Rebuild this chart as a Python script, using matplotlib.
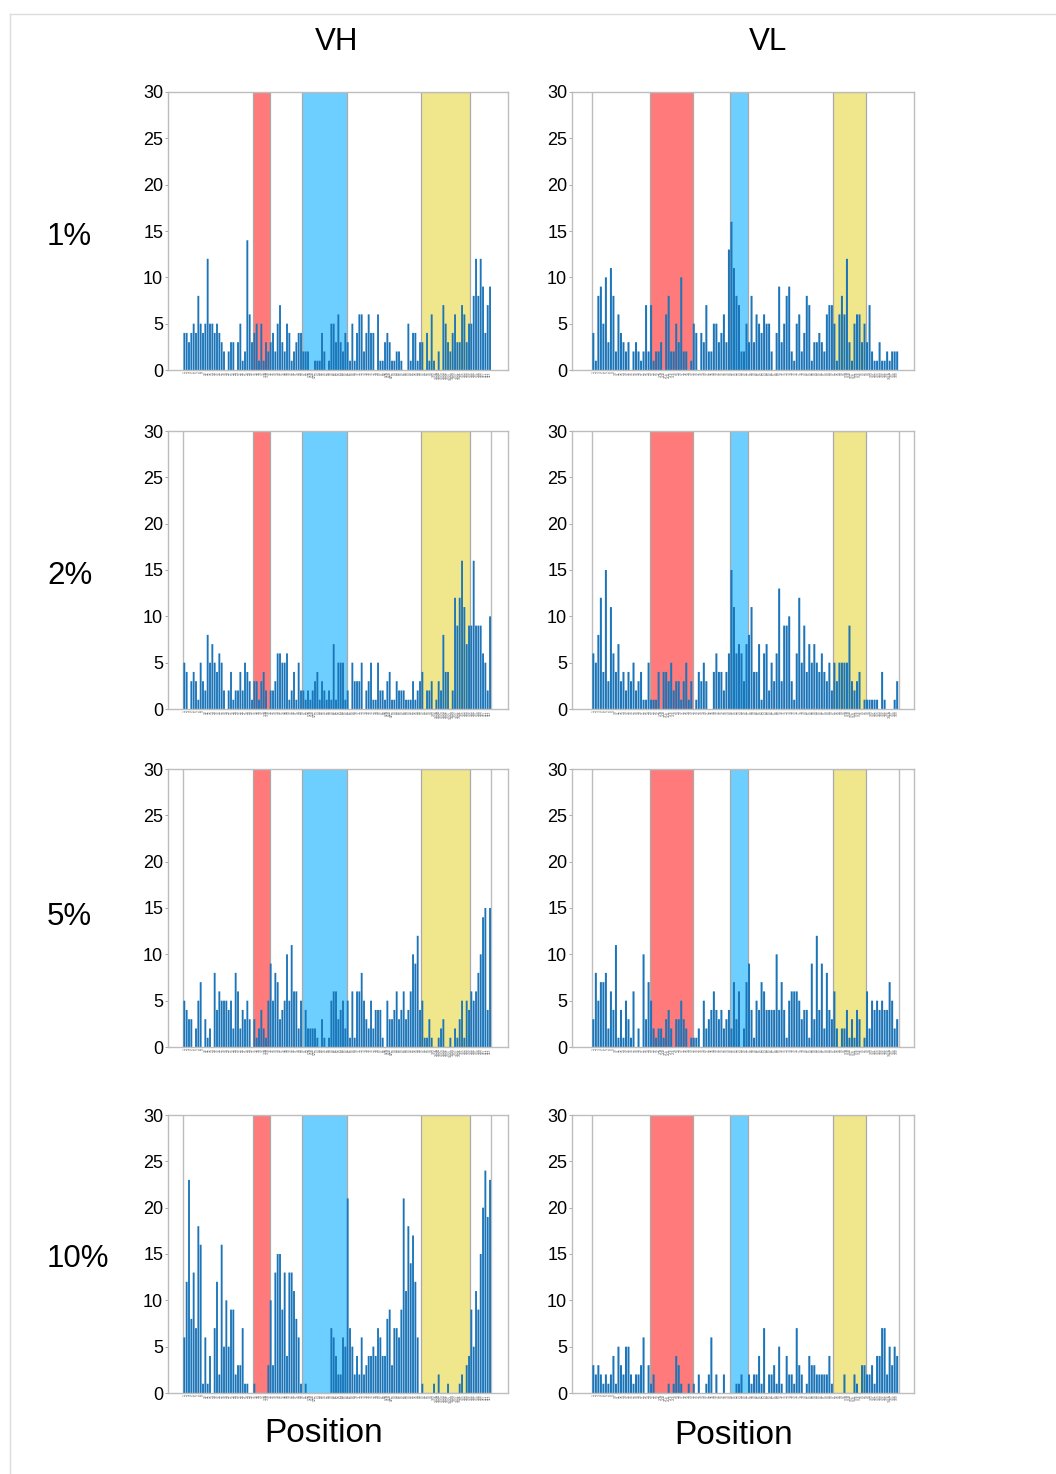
import numpy as np
import matplotlib
matplotlib.use("Agg")
import matplotlib.pyplot as plt
from matplotlib.lines import Line2D

W, H, DPI = 1056, 1474, 100
FONT = "Liberation Sans"
plt.rcParams["font.family"] = [FONT, "DejaVu Sans"]

# ---------------- data ----------------
ROWS = ["1%", "2%", "5%", "10%"]
CHAINS = ["VH", "VL"]


def kabat_labels(last, insertions):
    out = []
    for n in range(1, last + 1):
        out.append(str(n))
        for s in insertions.get(n, ""):
            out.append(f"{n}{s}")
    return out


VH_POS = kabat_labels(113, {35: "AB", 52: "ABC", 82: "ABC", 100: "ABCDEFGHIJK"})
VL_POS = kabat_labels(109, {27: "ABCDEF", 95: "ABCDEF", 106: "A"})

VH_CDRS = [("31", "35B"), ("50", "65"), ("95", "104")]
VL_CDRS = [("24", "34"), ("50", "56"), ("91", "97")]
CDR_COLORS = ["#ff7b7b", "#6dcfff", "#f0e68c"]

VH_1 = [4, 4, 3, 4, 5, 4, 8, 5, 4, 5, 12, 5, 5, 4, 5, 4, 3, 2, 0, 2,
        3, 3, 0, 3, 5, 1, 2, 14, 6, 3, 4, 5, 1, 5, 1, 3, 2, 3, 4, 2,
        5, 7, 3, 2, 5, 4, 1, 2, 3, 4, 4, 2, 2, 2, 0, 0, 1, 1, 1, 4,
        2, 0, 1, 5, 5, 3, 6, 3, 2, 4, 3, 1, 5, 1, 4, 6, 6, 2, 4, 6,
        4, 4, 0, 6, 1, 1, 3, 4, 3, 1, 1, 2, 2, 1, 0, 0, 5, 1, 4, 4,
        1, 3, 3, 0, 4, 1, 6, 1, 0, 2, 0, 7, 5, 3, 2, 4, 6, 3, 3, 7,
        6, 3, 5, 5, 8, 12, 8, 12, 9, 4, 7, 9]
VH_2 = [5, 4, 0, 3, 4, 3, 1, 5, 3, 2, 8, 5, 7, 5, 4, 6, 5, 2, 0, 2,
        4, 1, 2, 2, 4, 2, 5, 4, 3, 1, 3, 3, 1, 3, 4, 2, 0, 2, 2, 3,
        6, 6, 5, 5, 6, 1, 2, 4, 1, 5, 2, 2, 1, 2, 1, 2, 3, 4, 1, 3,
        2, 1, 2, 1, 7, 1, 5, 5, 5, 1, 2, 0, 5, 3, 3, 3, 5, 0, 2, 3,
        5, 1, 1, 5, 2, 2, 1, 3, 4, 1, 1, 3, 2, 2, 2, 1, 1, 1, 3, 1,
        2, 3, 4, 0, 2, 2, 3, 0, 1, 3, 2, 8, 4, 4, 0, 2, 12, 9, 12, 16,
        11, 7, 9, 9, 16, 9, 9, 9, 6, 5, 2, 10]
VH_5 = [5, 4, 3, 3, 0, 2, 5, 7, 0, 3, 1, 2, 0, 8, 4, 6, 5, 5, 5, 4,
        5, 2, 8, 6, 2, 4, 3, 5, 3, 0, 3, 1, 2, 4, 2, 1, 5, 9, 5, 8,
        7, 3, 4, 5, 10, 5, 11, 6, 6, 2, 5, 0, 4, 2, 2, 2, 2, 1, 0, 3,
        1, 0, 1, 5, 6, 6, 3, 4, 5, 2, 5, 1, 6, 1, 6, 6, 8, 5, 3, 2,
        5, 2, 4, 4, 4, 1, 0, 5, 3, 3, 4, 6, 3, 4, 6, 3, 4, 6, 10, 9,
        12, 4, 5, 1, 1, 3, 1, 0, 0, 1, 2, 3, 0, 0, 1, 0, 2, 1, 3, 5,
        1, 5, 4, 6, 5, 6, 8, 10, 14, 15, 4, 15]
VH_10 = [6, 12, 23, 8, 13, 7, 18, 16, 1, 6, 1, 4, 0, 7, 12, 2, 16, 5, 10, 5,
         9, 9, 2, 3, 3, 7, 1, 1, 0, 0, 1, 0, 0, 0, 0, 0, 3, 10, 3, 13,
         15, 15, 9, 13, 4, 13, 13, 11, 8, 6, 1, 0, 1, 0, 0, 0, 0, 0, 0, 0,
         0, 0, 0, 7, 6, 4, 2, 2, 6, 5, 21, 7, 5, 2, 4, 2, 6, 2, 3, 4,
         4, 5, 4, 7, 6, 4, 4, 8, 9, 3, 7, 7, 6, 9, 21, 11, 18, 14, 17, 12,
         6, 0, 1, 0, 0, 0, 0, 1, 0, 2, 0, 0, 0, 1, 0, 0, 0, 0, 1, 2,
         0, 3, 4, 9, 5, 11, 9, 15, 20, 24, 19, 23]

VL_1 = [4, 1, 8, 9, 5, 10, 3, 11, 8, 2, 6, 4, 3, 2, 3, 0, 2, 3, 2, 1,
        2, 7, 2, 7, 1, 2, 2, 3, 0, 6, 8, 2, 2, 5, 3, 10, 2, 2, 0, 1,
        5, 4, 0, 4, 3, 7, 2, 2, 5, 5, 3, 4, 6, 3, 13, 16, 11, 8, 7, 2,
        2, 5, 3, 8, 3, 6, 5, 4, 6, 5, 5, 2, 0, 4, 9, 3, 5, 8, 9, 2,
        1, 5, 6, 2, 4, 8, 7, 1, 3, 3, 4, 3, 2, 6, 7, 7, 5, 1, 6, 8,
        6, 12, 3, 1, 5, 6, 6, 3, 5, 3, 7, 2, 1, 1, 3, 1, 1, 2, 1, 2,
        2, 2]
VL_2 = [6, 5, 8, 12, 4, 15, 3, 11, 6, 4, 7, 3, 4, 2, 4, 3, 5, 2, 3, 4,
        1, 1, 5, 1, 1, 1, 4, 0, 4, 4, 3, 5, 2, 3, 3, 1, 3, 5, 1, 3,
        0, 1, 4, 3, 5, 3, 0, 0, 4, 6, 4, 4, 2, 4, 6, 15, 11, 6, 7, 6,
        3, 7, 8, 11, 4, 4, 7, 1, 6, 7, 2, 5, 3, 6, 13, 3, 9, 9, 10, 3,
        1, 6, 12, 5, 9, 4, 7, 5, 7, 5, 4, 6, 4, 3, 5, 2, 5, 3, 5, 5,
        5, 5, 9, 3, 2, 3, 4, 0, 1, 1, 1, 1, 1, 1, 0, 4, 1, 0, 0, 0,
        1, 3]
VL_5 = [3, 8, 5, 7, 7, 8, 2, 6, 4, 11, 1, 4, 1, 5, 3, 1, 6, 0, 2, 0,
        10, 3, 7, 5, 2, 1, 2, 2, 1, 3, 4, 2, 0, 3, 3, 5, 3, 2, 0, 1,
        1, 1, 2, 0, 5, 2, 3, 4, 6, 4, 3, 4, 2, 3, 4, 2, 7, 3, 6, 0,
        2, 7, 9, 4, 1, 5, 4, 7, 6, 4, 4, 4, 4, 10, 4, 7, 4, 1, 5, 6,
        6, 6, 5, 3, 4, 4, 1, 9, 3, 12, 4, 9, 2, 8, 4, 3, 6, 2, 0, 2,
        2, 4, 1, 3, 1, 4, 3, 0, 1, 6, 2, 5, 4, 5, 4, 5, 4, 4, 7, 5,
        2, 3]
VL_10 = [3, 2, 3, 2, 1, 2, 1, 2, 4, 1, 5, 3, 2, 5, 5, 2, 1, 2, 2, 3,
         6, 0, 3, 1, 2, 0, 0, 0, 0, 0, 1, 0, 1, 4, 3, 1, 0, 0, 1, 0,
         1, 0, 2, 0, 0, 1, 2, 6, 0, 2, 0, 0, 2, 0, 0, 0, 0, 1, 1, 2,
         0, 0, 2, 1, 2, 2, 4, 1, 7, 0, 2, 2, 3, 1, 5, 1, 0, 4, 2, 2,
         1, 7, 3, 2, 0, 1, 4, 3, 3, 2, 2, 2, 2, 2, 4, 1, 0, 0, 0, 0,
         2, 0, 0, 0, 2, 1, 0, 3, 3, 2, 2, 3, 1, 4, 4, 7, 7, 2, 5, 3,
         5, 4]

DATA = {"VH": [VH_1, VH_2, VH_5, VH_10], "VL": [VL_1, VL_2, VL_5, VL_10]}
POS = {"VH": VH_POS, "VL": VL_POS}
CDRS = {"VH": VH_CDRS, "VL": VL_CDRS}

# ---------------- layout ----------------
COL_X = {"VH": (168, 508), "VL": (572, 914)}
XLIM = {"VH": (-7.0, 138.7), "VL": (-8.5, 127.7)}
ROW_Y = [(92, 370), (431, 709), (769, 1047), (1115, 1393)]
ROW_LABEL_Y = [237, 576, 917, 1259]
BAR_COLOR = "#1b75b8"
GRAY = "#bdbdbd"


def rect(l, r, t, b):
    return [l / W, 1 - b / H, (r - l) / W, (b - t) / H]


fig = plt.figure(figsize=(W / DPI, H / DPI), dpi=DPI)
fig.patch.set_facecolor("white")

# faint page border (top and left)
fig.add_artist(Line2D([10 / W, 10 / W], [0, 1 - 14 / H], transform=fig.transFigure,
                      color="#dcdcdc", lw=1))
fig.add_artist(Line2D([10 / W, 1], [1 - 14 / H, 1 - 14 / H], transform=fig.transFigure,
                      color="#dcdcdc", lw=1))

for r in range(len(ROWS)):
    for chain in CHAINS:
        l, rr = COL_X[chain]
        t, b = ROW_Y[r]
        ax = fig.add_axes(rect(l, rr, t, b))
        pos = POS[chain]
        vals = DATA[chain][r]
        x = np.arange(len(pos))
        for (a, z), col in zip(CDRS[chain], CDR_COLORS):
            ia, iz = pos.index(a), pos.index(z)
            ax.axvspan(ia - 0.5, iz + 0.5, facecolor=col, edgecolor="#a9a9a9",
                       lw=0.9, zorder=0)
        bars = ax.bar(x, vals, width=0.8, color=BAR_COLOR, zorder=2, linewidth=0)
        for p in bars:
            p.set_snap(False)
        # thin data-range guides
        if chain == "VL" or r > 0:
            ax.axvline(-0.6, color=GRAY, lw=1, zorder=1)
        if r > 0:
            ax.axvline(len(pos) - 0.4, color=GRAY, lw=1, zorder=1)
        ax.set_xlim(*XLIM[chain])
        ax.set_ylim(0, 30)
        ax.set_yticks(range(0, 31, 5))
        ax.tick_params(axis="y", length=2, width=0.6, color="#999999", pad=1.5,
                       labelsize=13, labelcolor="black")
        ax.set_xticks(x)
        ax.set_xticklabels(pos, rotation=90, fontsize=2.4, color="#6e6e6e")
        ax.tick_params(axis="x", length=0, pad=1)
        for s in ax.spines.values():
            s.set_color(GRAY)
            s.set_linewidth(1)
        ax.set_facecolor("white")

# column titles
fig.text(337 / W, 1 - 42 / H, "VH", ha="center", va="center", fontsize=22.5)
fig.text(768 / W, 1 - 42 / H, "VL", ha="center", va="center", fontsize=22.5)
# row labels
for lab, y in zip(ROWS, ROW_LABEL_Y):
    fig.text(47 / W, 1 - y / H, lab, ha="left", va="center", fontsize=22.5)
# x labels
fig.text(324 / W, 1 - 1433 / H, "Position", ha="center", va="center", fontsize=24)
fig.text(734 / W, 1 - 1436 / H, "Position", ha="center", va="center", fontsize=24)

fig.savefig("out.png", dpi=DPI, facecolor="white")
